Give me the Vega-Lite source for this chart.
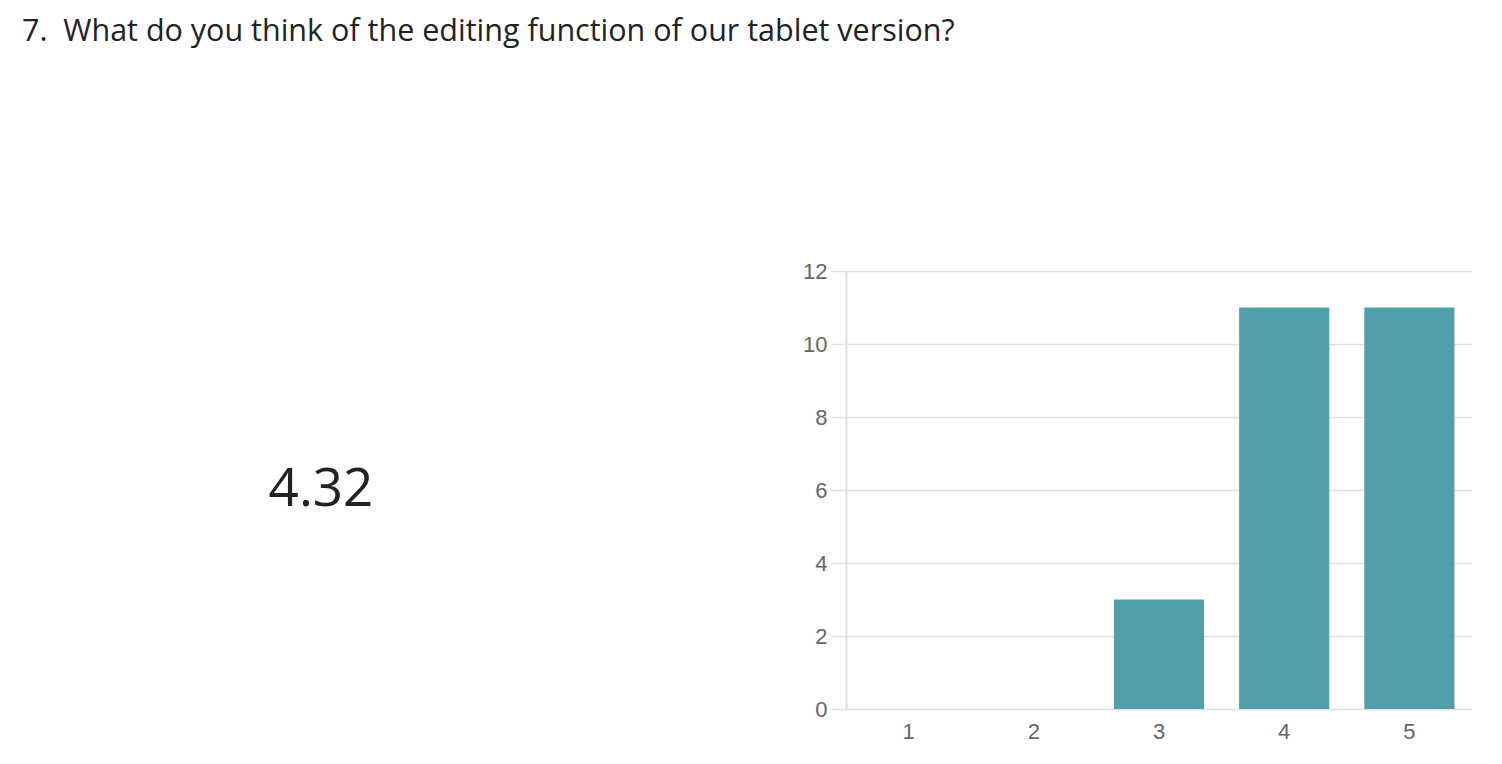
{
  "$schema": "https://vega.github.io/schema/vega-lite/v6.json",
  "padding": {"left": 22, "top": 16, "right": 0, "bottom": 0},
  "background": "white",
  "title": {
    "text": "7.\u00a0 What do you think of the editing function of our tablet version?",
    "anchor": "start",
    "font": "Open Sans",
    "fontSize": 30.5,
    "fontWeight": "normal",
    "color": "#222222",
    "offset": 213
  },
  "datasets": {
    "avg": [{"value": "4.32"}],
    "counts": [
      {"rating": "1", "count": 0},
      {"rating": "2", "count": 0},
      {"rating": "3", "count": 3},
      {"rating": "4", "count": 11},
      {"rating": "5", "count": 11}
    ]
  },
  "config": {"view": {"stroke": null}},
  "spacing": 182,
  "hconcat": [
    {
      "width": 598,
      "height": 438,
      "data": {"name": "avg"},
      "mark": {"type": "text", "font": "Open Sans", "fontSize": 53, "color": "#222222", "align": "center", "baseline": "middle"},
      "encoding": {"text": {"field": "value", "type": "nominal"}}
    },
    {
      "width": 626,
      "height": 438,
      "data": {"name": "counts"},
      "mark": {"type": "bar", "color": "#529FAC"},
      "encoding": {
        "x": {
          "field": "rating",
          "type": "ordinal",
          "scale": {"paddingInner": 0.28, "paddingOuter": 0.14},
          "axis": {
            "title": null,
            "labelAngle": 0,
            "domain": false,
            "ticks": false,
            "labelFont": "Liberation Sans",
            "labelFontSize": 22,
            "labelColor": "#666666",
            "labelPadding": 12
          }
        },
        "y": {
          "field": "count",
          "type": "quantitative",
          "scale": {"domain": [0, 12]},
          "axis": {
            "title": null,
            "values": [0, 2, 4, 6, 8, 10, 12],
            "domain": true,
            "domainColor": "#e0e0e0",
            "domainWidth": 2,
            "gridColor": "#e0e0e0",
            "gridWidth": 1.5,
            "tickColor": "#e0e0e0",
            "tickSize": 15,
            "tickWidth": 1.5,
            "labelFont": "Liberation Sans",
            "labelFontSize": 22,
            "labelColor": "#666666",
            "labelPadding": 4
          }
        }
      }
    }
  ]
}
